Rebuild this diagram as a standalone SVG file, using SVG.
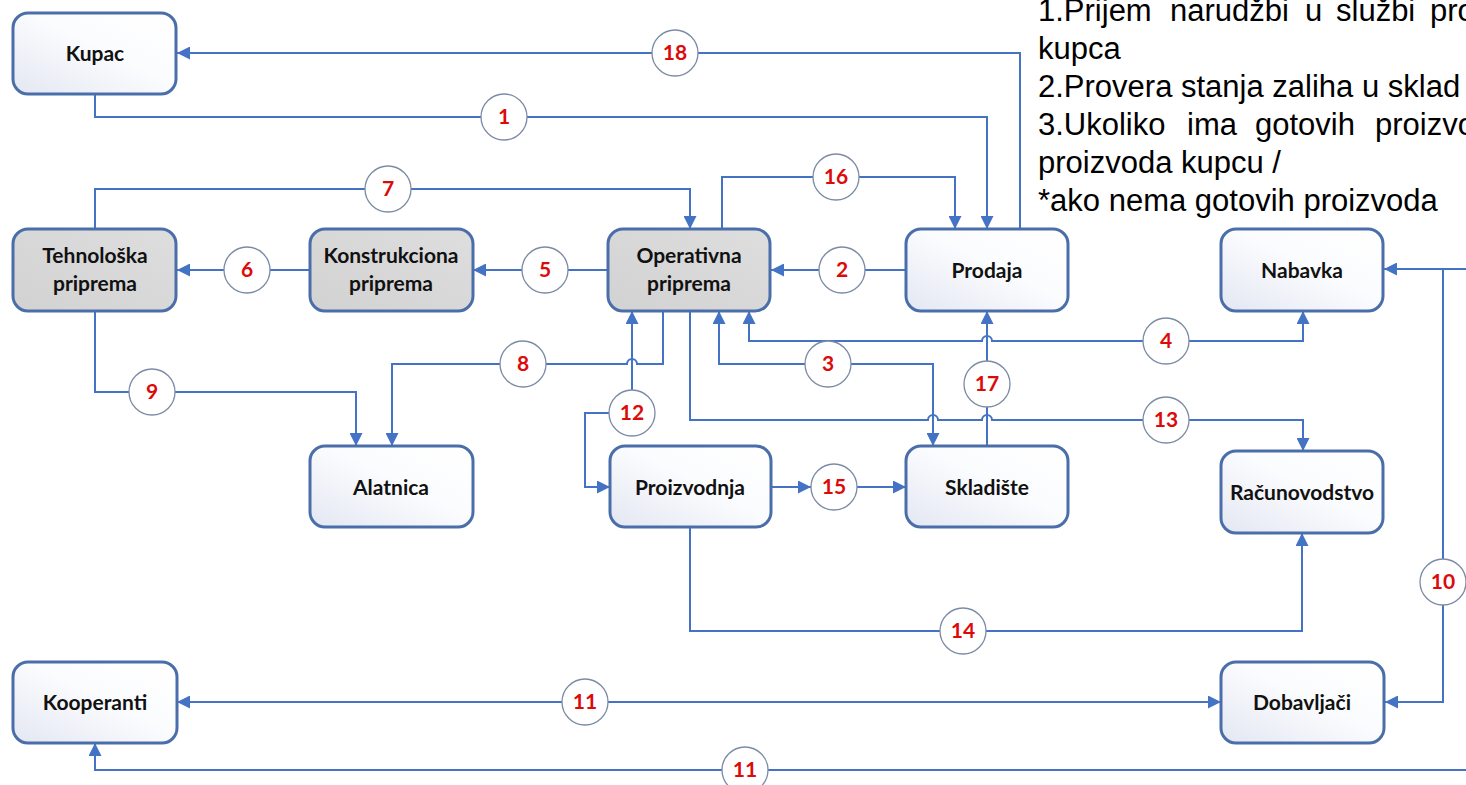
<svg xmlns="http://www.w3.org/2000/svg" width="1466" height="785" viewBox="0 0 1466 785">
  <defs>
    <linearGradient id="gWhite" x1="0" y1="1" x2="1" y2="0">
      <stop offset="0" stop-color="#E3E7F2"/>
      <stop offset="0.55" stop-color="#FBFCFE"/>
      <stop offset="1" stop-color="#FFFFFF"/>
    </linearGradient>
    <linearGradient id="gGray" x1="0" y1="1" x2="1" y2="0">
      <stop offset="0" stop-color="#D2D2D2"/>
      <stop offset="1" stop-color="#DEDEDE"/>
    </linearGradient>
    <marker id="arr" viewBox="0 0 13 13" refX="13" refY="6.5" markerWidth="13" markerHeight="13" markerUnits="userSpaceOnUse" orient="auto-start-reverse">
      <path d="M0,0 L13,6.5 L0,13 z" fill="#4472C4"/>
    </marker>
    <style>
      .box { fill: url(#gWhite); stroke: #4A6EAA; stroke-width: 3; }
      .box.gray { fill: url(#gGray); }
      .lbl { font-family: Lato, "Liberation Sans", sans-serif; font-weight: bold; font-size: 21px; fill: #111; text-anchor: middle; }
      .ln { fill: none; stroke: #4472C4; stroke-width: 2; }
      .e { marker-end: url(#arr); }
      .s { marker-start: url(#arr); }
      .num circle { fill: #FFFFFF; stroke: #7C8BA5; stroke-width: 1.3; }
      .num text { font-family: Lato, "Liberation Sans", sans-serif; font-weight: bold; font-size: 21px; fill: #DD0A0A; text-anchor: middle; }
      .note { font-family: "Liberation Sans", Arial, sans-serif; font-size: 31px; fill: #000; }
    </style>
  </defs>

  <rect x="0" y="0" width="1466" height="785" fill="#FFFFFF"/>

  <!-- connectors -->
  <g id="connectors">
    <path class="ln e" d="M1020 229 L1020 53 L177 53"/>
    <path class="ln e" d="M95 94 L95 117 L987 117 L987 229"/>
    <path class="ln e" d="M95 229 L95 189 L690 189 L690 229"/>
    <path class="ln e" d="M722 229 L722 177 L955 177 L955 229"/>
    <path class="ln e" d="M310 270 L177 270"/>
    <path class="ln e" d="M608 270 L473 270"/>
    <path class="ln e" d="M906 270 L771 270"/>
    <path class="ln e" d="M95 311 L95 392 L356 392 L356 446"/>
    <path class="ln e" d="M663 311 L663 364 L637 364 A5 5 0 0 0 627 364 L392 364 L392 446"/>
    <path class="ln s e" d="M632 311 L632 413 L585 413 L585 487 L610 487"/>
    <path class="ln s e" d="M719 311 L719 364 L933 364 L933 446"/>
    <path class="ln s e" d="M749 311 L749 341 L982 341 A5 5 0 0 1 992 341 L1303 341 L1303 311"/>
    <path class="ln e" d="M690 311 L690 420 L928 420 A5 5 0 0 1 938 420 L982 420 A5 5 0 0 1 992 420 L1303 420 L1303 451"/>
    <path class="ln e" d="M987 446 L987 311"/>
    <path class="ln e" d="M771 487 L811 487"/>
    <path class="ln e" d="M857 487 L906 487"/>
    <path class="ln e" d="M690 527 L690 631 L1302 631 L1302 533"/>
    <path class="ln e" d="M1466 269 L1384 269"/>
    <path class="ln e" d="M1443 269 L1443 702 L1385 702"/>
    <path class="ln s e" d="M177 702 L1221 702"/>
    <path class="ln e" d="M1466 770 L95 770 L95 743"/>
  </g>

  <!-- numbered markers on the connectors -->
  <g id="labels">
    <g class="num"><circle cx="675" cy="53" r="23"/><text x="675" y="60">18</text></g>
    <g class="num"><circle cx="504" cy="117" r="23"/><text x="504" y="124">1</text></g>
    <g class="num"><circle cx="388" cy="189" r="23"/><text x="388" y="196">7</text></g>
    <g class="num"><circle cx="836" cy="177" r="23"/><text x="836" y="184">16</text></g>
    <g class="num"><circle cx="247" cy="270" r="23"/><text x="247" y="277">6</text></g>
    <g class="num"><circle cx="545" cy="270" r="23"/><text x="545" y="277">5</text></g>
    <g class="num"><circle cx="842" cy="270" r="23"/><text x="842" y="277">2</text></g>
    <g class="num"><circle cx="1166" cy="341" r="23"/><text x="1166" y="348">4</text></g>
    <g class="num"><circle cx="523" cy="364" r="23"/><text x="523" y="371">8</text></g>
    <g class="num"><circle cx="828" cy="364" r="23"/><text x="828" y="371">3</text></g>
    <g class="num"><circle cx="987" cy="384" r="23"/><text x="987" y="391">17</text></g>
    <g class="num"><circle cx="152" cy="392" r="23"/><text x="152" y="399">9</text></g>
    <g class="num"><circle cx="632" cy="413" r="23"/><text x="632" y="420">12</text></g>
    <g class="num"><circle cx="1166" cy="420" r="23"/><text x="1166" y="427">13</text></g>
    <g class="num"><circle cx="834" cy="487" r="23"/><text x="834" y="494">15</text></g>
    <g class="num"><circle cx="1443" cy="582" r="23"/><text x="1443" y="589">10</text></g>
    <g class="num"><circle cx="963" cy="631" r="23"/><text x="963" y="638">14</text></g>
    <g class="num"><circle cx="585" cy="702" r="23"/><text x="585" y="709">11</text></g>
    <g class="num"><circle cx="745" cy="770" r="23"/><text x="745" y="777">11</text></g>
  </g>

  <!-- nodes -->
  <g id="kupac"><rect class="box" x="13" y="13" width="163" height="81" rx="15"/><text class="lbl" x="95" y="61">Kupac</text></g>
  <g id="tehnoloska"><rect class="box gray" x="13" y="229" width="163" height="82" rx="15"/><text class="lbl" x="95" y="263">Tehnološka</text><text class="lbl" x="95" y="291">priprema</text></g>
  <g id="konstrukciona"><rect class="box gray" x="310" y="229" width="163" height="82" rx="15"/><text class="lbl" x="391" y="263">Konstrukciona</text><text class="lbl" x="391" y="291">priprema</text></g>
  <g id="operativna"><rect class="box gray" x="608" y="229" width="162" height="82" rx="15"/><text class="lbl" x="689" y="263">Operativna</text><text class="lbl" x="689" y="291">priprema</text></g>
  <g id="prodaja"><rect class="box" x="906" y="229" width="162" height="82" rx="15"/><text class="lbl" x="987" y="278">Prodaja</text></g>
  <g id="nabavka"><rect class="box" x="1221" y="229" width="162" height="82" rx="15"/><text class="lbl" x="1302" y="278">Nabavka</text></g>
  <g id="alatnica"><rect class="box" x="310" y="446" width="163" height="81" rx="15"/><text class="lbl" x="391" y="495">Alatnica</text></g>
  <g id="proizvodnja"><rect class="box" x="610" y="446" width="161" height="81" rx="15"/><text class="lbl" x="690" y="495">Proizvodnja</text></g>
  <g id="skladiste"><rect class="box" x="906" y="446" width="162" height="81" rx="15"/><text class="lbl" x="987" y="495">Skladište</text></g>
  <g id="racunovodstvo"><rect class="box" x="1221" y="451" width="162" height="82" rx="15"/><text class="lbl" x="1302" y="500">Računovodstvo</text></g>
  <g id="kooperanti"><rect class="box" x="13" y="662" width="164" height="81" rx="15"/><text class="lbl" x="95" y="710">Kooperanti</text></g>
  <g id="dobavljaci"><rect class="box" x="1221" y="662" width="163" height="81" rx="15"/><text class="lbl" x="1302" y="710">Dobavljači</text></g>

  <!-- process notes -->
  <g id="notes" class="note">
    <text y="21"><tspan x="1038">1.Prijem</tspan><tspan x="1170">narudžbi</tspan><tspan x="1305">u</tspan><tspan x="1336">službi</tspan><tspan x="1430">pro</tspan></text>
    <text x="1038" y="59">kupca</text>
    <text x="1038" y="97">2.Provera stanja zaliha u sklad</text>
    <text y="135"><tspan x="1038">3.Ukoliko</tspan><tspan x="1187">ima</tspan><tspan x="1255">gotovih</tspan><tspan x="1375">proizvo</tspan></text>
    <text x="1038" y="173">proizvoda kupcu /</text>
    <text x="1038" y="211">*ako nema gotovih proizvoda</text>
  </g>
</svg>
